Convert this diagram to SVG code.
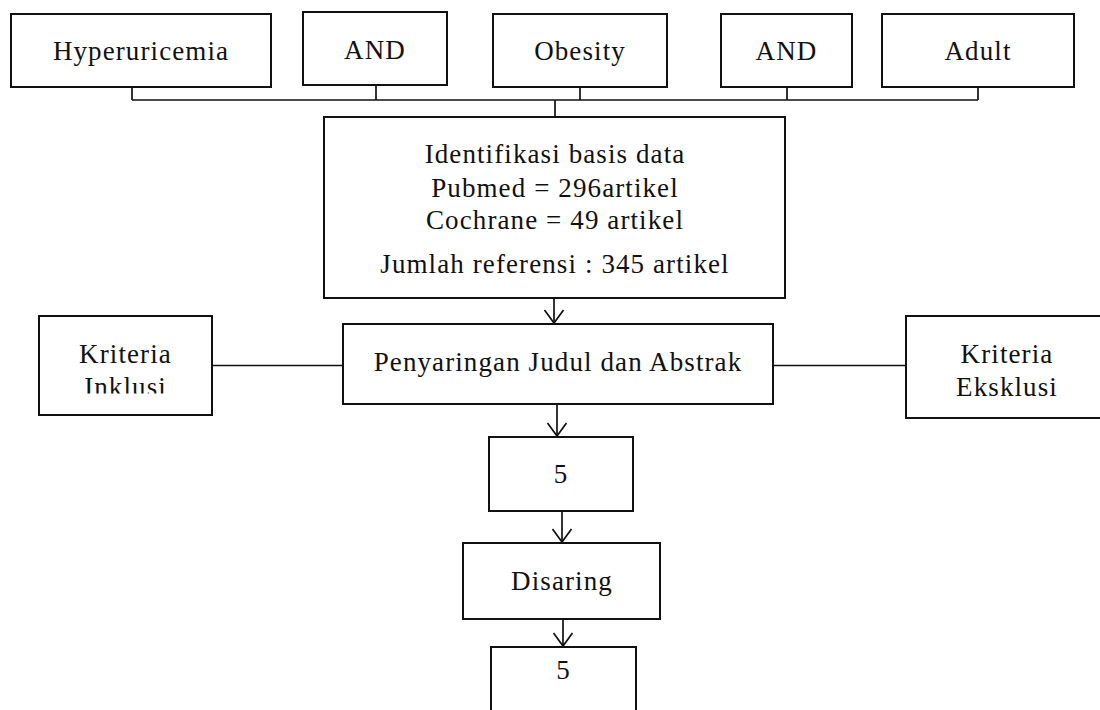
<svg xmlns="http://www.w3.org/2000/svg" width="1100" height="710" viewBox="0 0 1100 710">
<defs>
<style>
.box{fill:#fff;stroke:#111;stroke-width:2}
.t{font-family:"Liberation Serif","Times New Roman",serif;font-size:27px;letter-spacing:1.1px;fill:#111;text-anchor:middle}
.ln{fill:none;stroke:#111;stroke-width:1.7}
</style>
<marker id="arr" markerUnits="userSpaceOnUse" markerWidth="18" markerHeight="24" viewBox="-15 -12 18 24" refX="0" refY="0" orient="auto">
<path d="M-13,-9.5 L0,0 L-13,9.5" fill="none" stroke="#111" stroke-width="1.7"/>
</marker>
<clipPath id="clipInk"><rect x="30" y="300" width="200" height="93.5"/></clipPath>
</defs>
<rect width="1100" height="710" fill="#fff"/>
<g id="connectors">
<path class="ln" d="M132,87 V100 M376,85 V100 M580,87 V100 M787,87 V100 M978,87 V100 M132,100 H978 M555,100 V117"/>
<path class="ln" d="M212,365.5 H343 M773,365.5 H906"/>
<path class="ln" d="M554,298 V323" marker-end="url(#arr)"/>
<path class="ln" d="M557,404 V436" marker-end="url(#arr)"/>
<path class="ln" d="M562,511 V542" marker-end="url(#arr)"/>
<path class="ln" d="M563,619 V646" marker-end="url(#arr)"/>
</g>
<g id="hyperuricemia"><rect class="box" x="11" y="14" width="260" height="73"/><text class="t" x="141" y="60">Hyperuricemia</text></g>
<g id="and1"><rect class="box" x="303" y="12" width="144" height="73"/><text class="t" x="375" y="59">AND</text></g>
<g id="obesity"><rect class="box" x="493" y="14" width="174" height="73"/><text class="t" x="580" y="60">Obesity</text></g>
<g id="and2"><rect class="box" x="721" y="14" width="131" height="73"/><text class="t" x="786.5" y="60">AND</text></g>
<g id="adult"><rect class="box" x="882" y="14" width="192" height="73"/><text class="t" x="978" y="60">Adult</text></g>
<g id="identifikasi"><rect class="box" x="324" y="117" width="461" height="181"/>
<text class="t" x="555" y="163">Identifikasi basis data</text>
<text class="t" x="555" y="197">Pubmed = 296artikel</text>
<text class="t" x="555" y="229">Cochrane = 49 artikel</text>
<text class="t" x="555" y="273">Jumlah referensi : 345 artikel</text></g>
<g id="penyaringan"><rect class="box" x="343" y="324" width="430" height="80"/><text class="t" x="558" y="371">Penyaringan Judul dan Abstrak</text></g>
<g id="inklusi"><rect class="box" x="39" y="316" width="173" height="99"/>
<g clip-path="url(#clipInk)"><text class="t" x="125.5" y="363">Kriteria</text><text class="t" x="125.5" y="396">Inklusi</text></g></g>
<g id="eksklusi"><rect class="box" x="906" y="316" width="204" height="102"/>
<text class="t" x="1007" y="363">Kriteria</text><text class="t" x="1007" y="396">Eksklusi</text></g>
<g id="n5a"><rect class="box" x="489" y="437" width="144" height="74"/><text class="t" x="561" y="483">5</text></g>
<g id="disaring"><rect class="box" x="463" y="543" width="197" height="76"/><text class="t" x="562" y="590">Disaring</text></g>
<g id="n5b"><rect class="box" x="491" y="647" width="145" height="74"/><text class="t" x="563.5" y="679">5</text></g>
</svg>
